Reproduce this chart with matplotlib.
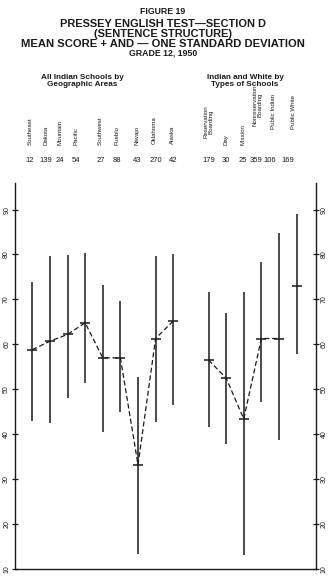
import matplotlib
matplotlib.use("Agg")
import matplotlib.pyplot as plt
import matplotlib.transforms as mtransforms

# --- data ---
geo_labels = ["Southeast", "Dakota", "Mountain", "Pacific", "Southwest",
              "Pueblo", "Navajo", "Oklahoma", "Alaska"]
geo_n = [12, 139, 24, 54, 27, 88, 43, 270, 42]
geo_mean = [58.8, 60.7, 62.2, 64.8, 57.0, 57.0, 33.2, 61.3, 65.2]
geo_low = [42.9, 42.6, 48.0, 51.4, 40.5, 44.9, 13.4, 42.7, 46.4]
geo_high = [73.9, 79.7, 79.9, 80.4, 73.3, 69.7, 52.7, 79.7, 80.1]

type_labels = ["Reservation\nBoarding", "Day", "Mission", "Nonreservation\nBoarding",
               "Public Indian", "Public White"]
type_n = [179, 30, 25, 359, 106, 169]
type_mean = [56.5, 52.5, 43.4, 61.3, 61.3, 72.9]
type_low = [41.7, 37.9, 13.2, 47.2, 38.8, 57.9]
type_high = [71.7, 67.0, 71.6, 78.4, 84.7, 89.1]

geo_x = list(range(9))
type_x = list(range(10, 16))
yticks = [10, 20, 30, 40, 50, 60, 70, 80, 90]

# layout: header text placement (x shift in data units, label bottom in px)
geo_shift = [-0.12, -0.22, -0.42, -0.5, -0.12, -0.2, -0.08, -0.05, -0.05]
type_shift = [0.0, 0.0, -0.05, -0.2, -0.3, -0.15]
geo_bottom = [145, 145, 145, 145, 145, 145, 145, 144, 144]
type_bottom = [138, 145, 145, 126, 129, 129]
cnt_geo_shift = [-0.12, -0.22, -0.45, -0.5, -0.1, -0.2, -0.05, 0.0, 0.0]
cnt_type_shift = [0.0, 0.0, -0.05, -0.3, -0.5, -0.48]

INK = "#1a1a1a"
plt.rcParams["font.family"] = ["Liberation Sans", "DejaVu Sans"]

fig = plt.figure(figsize=(3.31, 5.81), dpi=100, facecolor="white")
ax = fig.add_axes([0.0453, 0.0207, 0.9094, 0.665])

for xs, lo, hi, mu in [(geo_x, geo_low, geo_high, geo_mean),
                       (type_x, type_low, type_high, type_mean)]:
    ax.vlines(xs, lo, hi, color=INK, linewidth=1.1)
    ax.plot(xs, mu, linestyle="none", marker="_", markersize=7.5,
            markeredgewidth=1.1, color=INK)

# dashed connectors (Public White not connected)
ax.plot(geo_x, geo_mean, color=INK, linewidth=0.9, dashes=(4, 2.2))
ax.plot(type_x[:5], type_mean[:5], color=INK, linewidth=0.9, dashes=(4, 2.2))

ax.set_xlim(-0.98, 16.1)
ax.set_ylim(10, 96)
ax.spines["top"].set_visible(False)
for s in ["left", "right", "bottom"]:
    ax.spines[s].set_color(INK)
    ax.spines[s].set_linewidth(1.0)
ax.set_xticks([])
ax.set_yticks(yticks)
ax.tick_params(axis="y", which="both", direction="inout", length=5, width=0.9,
               labelsize=5, colors=INK, left=True, right=True,
               labelleft=True, labelright=True, pad=1)
for lab in ax.get_yticklabels():
    lab.set_rotation(90)
    lab.set_va("center")

# category labels and counts above the plot
tr = mtransforms.blended_transform_factory(ax.transData, fig.transFigure)
for xs, labels, ns, sh, bt, csh in [
        (geo_x, geo_labels, geo_n, geo_shift, geo_bottom, cnt_geo_shift),
        (type_x, type_labels, type_n, type_shift, type_bottom, cnt_type_shift)]:
    for x, lab, n, s, b, c in zip(xs, labels, ns, sh, bt, csh):
        ax.text(x + s, 1 - b / 581, lab, transform=tr, rotation=90,
                ha="center", va="bottom", fontsize=4.4, color=INK,
                linespacing=1.05)
        ax.text(x + c, 1 - 161 / 581, str(n), transform=tr, ha="center",
                va="center", fontsize=5.5, color=INK)

# headings
def ftext(xp, yp, s, **kw):
    fig.text(xp / 331, 1 - yp / 581, s, ha="center", va="center", color=INK, **kw)

ftext(163, 12, "FIGURE 19", fontsize=6.3, fontweight="bold")
ftext(163, 24, "PRESSEY ENGLISH TEST\u2014SECTION D", fontsize=7.9, fontweight="bold")
ftext(163, 34, "(SENTENCE STRUCTURE)", fontsize=7.9, fontweight="bold")
ftext(163, 44, "MEAN SCORE + AND \u2014 ONE STANDARD DEVIATION", fontsize=8.1,
      fontweight="bold")
ftext(163, 53, "GRADE 12, 1950", fontsize=6.3, fontweight="bold")
ftext(82, 81, "All Indian Schools by\nGeographic Areas", fontsize=5.9,
      fontweight="bold", linespacing=1.1)
ftext(245, 81, "Indian and White by\nTypes of Schools", fontsize=5.9,
      fontweight="bold", linespacing=1.1)

fig.savefig("out.png", dpi=100, facecolor="white")
